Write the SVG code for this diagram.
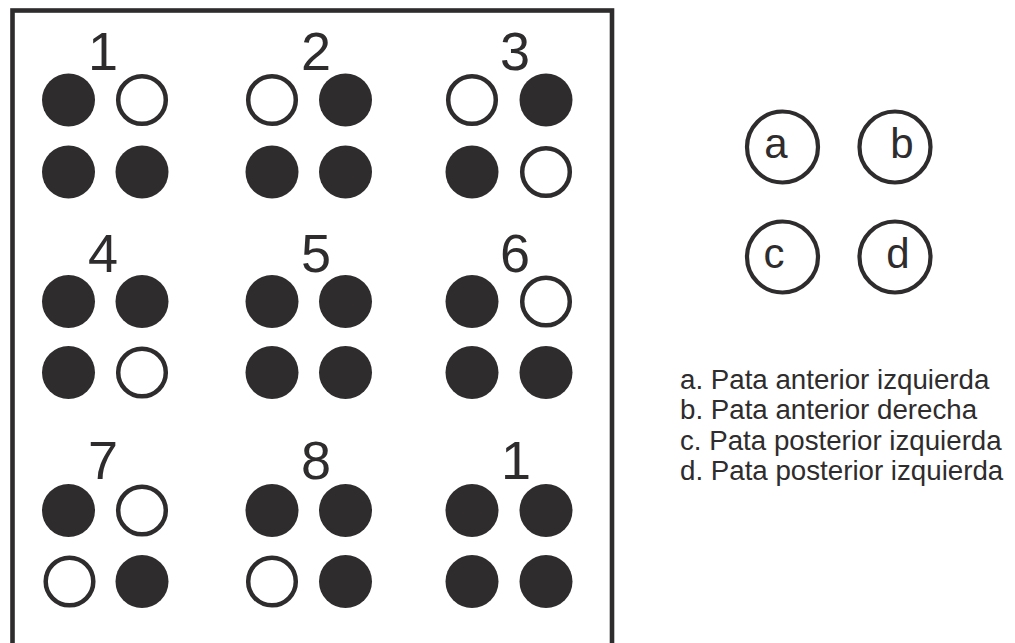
<svg xmlns="http://www.w3.org/2000/svg" width="1015" height="643" viewBox="0 0 1015 643">
<style>
.f{fill:#2e2c2d}
.o{fill:#fff;stroke:#2e2c2d;stroke-width:4.5}
.n{font-family:"Liberation Sans",Arial,sans-serif;font-size:54px;fill:#2e2c2d;text-anchor:middle}
.lc{fill:#fff;stroke:#2e2c2d;stroke-width:4.2}
.ll{font-family:"Liberation Sans",Arial,sans-serif;font-size:42px;fill:#2e2c2d;text-anchor:middle}
.t{font-family:"Liberation Sans",Arial,sans-serif;font-size:27.7px;fill:#2e2c2d}
</style>
<rect width="1015" height="643" fill="#fff"/>
<rect id="frame" x="12.5" y="10.5" width="599.5" height="660" fill="none" stroke="#2e2c2d" stroke-width="4.6"/>
<g id="cell1">
<text class="n" x="103" y="70">1</text>
<circle class="f" cx="68.5" cy="100" r="26.5"/><circle class="o" cx="142" cy="100" r="23.8"/>
<circle class="f" cx="68.5" cy="172" r="26.5"/><circle class="f" cx="142" cy="172" r="26.5"/>
</g>
<g id="cell2">
<text class="n" x="316" y="70">2</text>
<circle class="o" cx="272" cy="100" r="23.8"/><circle class="f" cx="345.5" cy="100" r="26.5"/>
<circle class="f" cx="272" cy="172" r="26.5"/><circle class="f" cx="345.5" cy="172" r="26.5"/>
</g>
<g id="cell3">
<text class="n" x="515" y="70">3</text>
<circle class="o" cx="472" cy="100" r="23.8"/><circle class="f" cx="546" cy="100" r="26.5"/>
<circle class="f" cx="472" cy="172" r="26.5"/><circle class="o" cx="546" cy="172" r="23.8"/>
</g>
<g id="cell4">
<text class="n" x="103" y="272">4</text>
<circle class="f" cx="68.5" cy="301.5" r="26.5"/><circle class="f" cx="142" cy="301.5" r="26.5"/>
<circle class="f" cx="68.5" cy="372.5" r="26.5"/><circle class="o" cx="142" cy="372.5" r="23.8"/>
</g>
<g id="cell5">
<text class="n" x="316" y="272">5</text>
<circle class="f" cx="272" cy="301.5" r="26.5"/><circle class="f" cx="345.5" cy="301.5" r="26.5"/>
<circle class="f" cx="272" cy="372.5" r="26.5"/><circle class="f" cx="345.5" cy="372.5" r="26.5"/>
</g>
<g id="cell6">
<text class="n" x="515" y="272">6</text>
<circle class="f" cx="472" cy="301.5" r="26.5"/><circle class="o" cx="546" cy="301.5" r="23.8"/>
<circle class="f" cx="472" cy="372.5" r="26.5"/><circle class="f" cx="546" cy="372.5" r="26.5"/>
</g>
<g id="cell7">
<text class="n" x="103" y="479">7</text>
<circle class="f" cx="68.5" cy="510.5" r="26.5"/><circle class="o" cx="142" cy="510.5" r="23.8"/>
<circle class="o" cx="69.5" cy="581.5" r="23.8"/><circle class="f" cx="142" cy="581.5" r="26.5"/>
</g>
<g id="cell8">
<text class="n" x="316" y="479">8</text>
<circle class="f" cx="272" cy="510.5" r="26.5"/><circle class="f" cx="345.5" cy="510.5" r="26.5"/>
<circle class="o" cx="272" cy="581.5" r="23.8"/><circle class="f" cx="345.5" cy="581.5" r="26.5"/>
</g>
<g id="cell9">
<text class="n" x="516" y="479">1</text>
<circle class="f" cx="472" cy="510.5" r="26.5"/><circle class="f" cx="546" cy="510.5" r="26.5"/>
<circle class="f" cx="472" cy="581.5" r="26.5"/><circle class="f" cx="546" cy="581.5" r="26.5"/>
</g>
<g id="legend-a"><circle class="lc" cx="782.5" cy="147" r="35.5"/><text class="ll" x="776" y="158">a</text></g>
<g id="legend-b"><circle class="lc" cx="895" cy="147" r="35.5"/><text class="ll" x="902" y="158">b</text></g>
<g id="legend-c"><circle class="lc" cx="782.5" cy="257" r="35.5"/><text class="ll" x="774" y="268">c</text></g>
<g id="legend-d"><circle class="lc" cx="895" cy="257" r="35.5"/><text class="ll" x="898" y="268">d</text></g>
<g id="legend-text">
<text class="t" x="680" y="389">a. Pata anterior izquierda</text>
<text class="t" x="680" y="419">b. Pata anterior derecha</text>
<text class="t" x="680" y="450">c. Pata posterior izquierda</text>
<text class="t" x="680" y="480">d. Pata posterior izquierda</text>
</g>
</svg>
